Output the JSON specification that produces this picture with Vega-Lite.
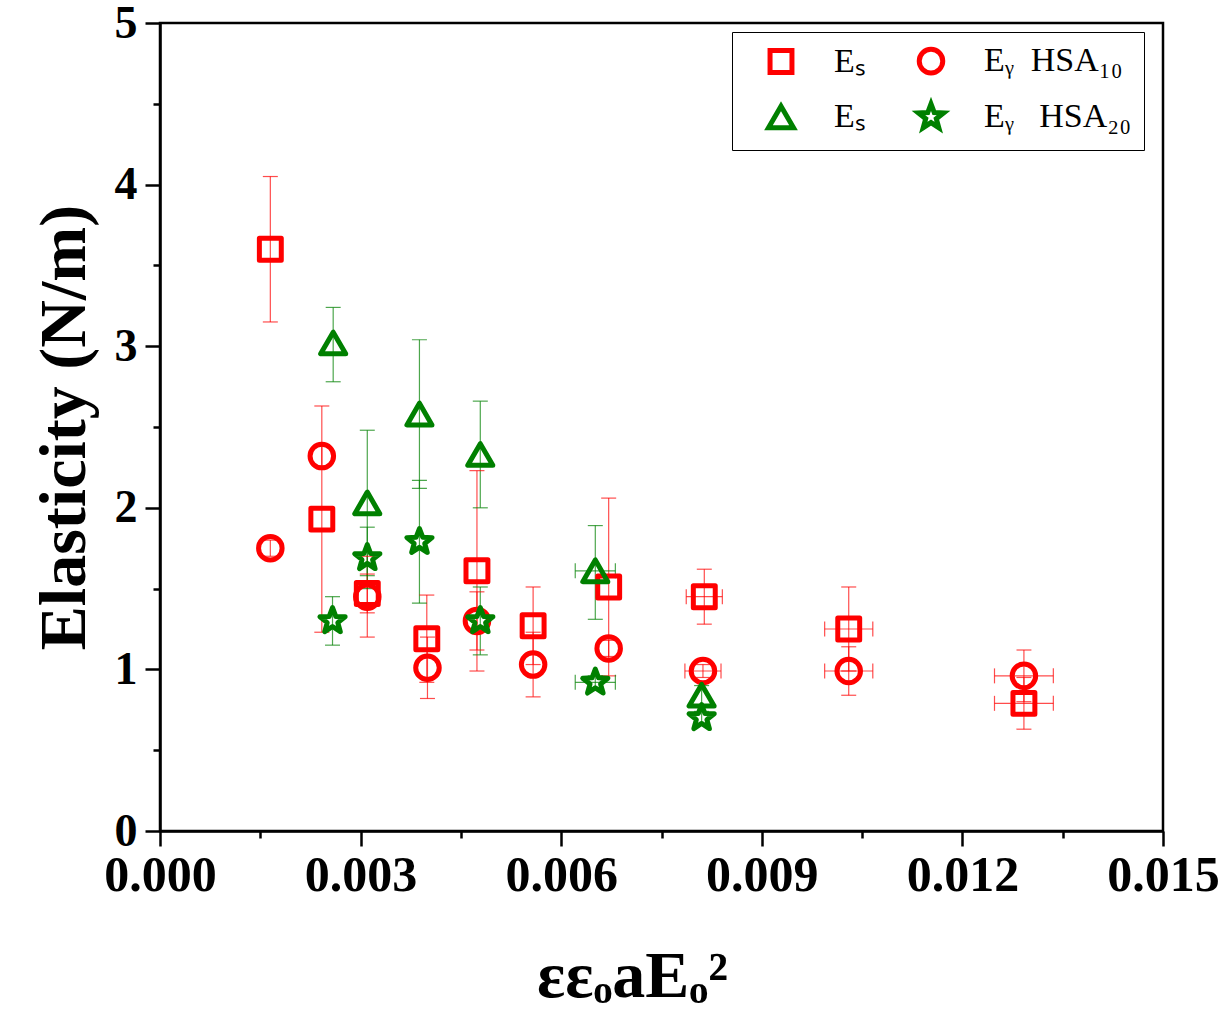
{
  "$schema": "https://vega.github.io/schema/vega-lite/v6.json",
  "width": 1003,
  "height": 808,
  "autosize": {"type": "none"},
  "padding": {"left": 160, "top": 23, "right": 68, "bottom": 187},
  "background": "white",
  "config": {
    "font": "Liberation Serif",
    "view": {"stroke": "black", "strokeWidth": 2.5},
    "axis": {
      "domainColor": "black", "domainWidth": 2.5,
      "tickColor": "black", "tickWidth": 2.5,
      "labelFont": "Liberation Serif", "labelFontWeight": "bold", "labelColor": "black",
      "titleFont": "Liberation Serif", "titleFontWeight": "bold", "titleColor": "black",
      "grid": false
    }
  },
  "resolve": {"scale": {"stroke": "independent", "fill": "independent"}},
  "data": {
    "values": [
      {"series": "s10", "x": 0.00165, "y": 3.60, "ylo": 3.15, "yhi": 4.05, "xlo": null, "xhi": null},
      {"series": "s10", "x": 0.00242, "y": 1.93, "ylo": 1.23, "yhi": 2.63, "xlo": null, "xhi": null},
      {"series": "s10", "x": 0.00310, "y": 1.47, "ylo": 1.35, "yhi": 1.59, "xlo": null, "xhi": null},
      {"series": "s10", "x": 0.00399, "y": 1.19, "ylo": 0.92, "yhi": 1.46, "xlo": null, "xhi": null},
      {"series": "s10", "x": 0.00474, "y": 1.61, "ylo": 0.99, "yhi": 2.23, "xlo": null, "xhi": null},
      {"series": "s10", "x": 0.00558, "y": 1.27, "ylo": 1.03, "yhi": 1.51, "xlo": null, "xhi": null},
      {"series": "s10", "x": 0.00671, "y": 1.51, "ylo": 0.96, "yhi": 2.06, "xlo": null, "xhi": null},
      {"series": "s10", "x": 0.00814, "y": 1.45, "ylo": 1.28, "yhi": 1.62, "xlo": 0.00787, "xhi": 0.00841},
      {"series": "s10", "x": 0.01030, "y": 1.25, "ylo": 0.99, "yhi": 1.51, "xlo": 0.00994, "xhi": 0.01066},
      {"series": "s10", "x": 0.01292, "y": 0.79, "ylo": 0.63, "yhi": 0.95, "xlo": 0.01248, "xhi": 0.01336},
      {"series": "y10", "x": 0.00165, "y": 1.75, "ylo": 1.70, "yhi": 1.80, "xlo": null, "xhi": null},
      {"series": "y10", "x": 0.00242, "y": 2.32, "ylo": 2.25, "yhi": 2.39, "xlo": null, "xhi": null},
      {"series": "y10", "x": 0.00310, "y": 1.45, "ylo": 1.20, "yhi": 1.70, "xlo": null, "xhi": null},
      {"series": "y10", "x": 0.00400, "y": 1.01, "ylo": 0.82, "yhi": 1.20, "xlo": null, "xhi": null},
      {"series": "y10", "x": 0.00474, "y": 1.30, "ylo": 1.12, "yhi": 1.48, "xlo": null, "xhi": null},
      {"series": "y10", "x": 0.00558, "y": 1.03, "ylo": 0.83, "yhi": 1.23, "xlo": null, "xhi": null},
      {"series": "y10", "x": 0.00671, "y": 1.13, "ylo": 1.08, "yhi": 1.18, "xlo": null, "xhi": null},
      {"series": "y10", "x": 0.00812, "y": 0.99, "ylo": 0.95, "yhi": 1.03, "xlo": 0.00785, "xhi": 0.00839},
      {"series": "y10", "x": 0.01030, "y": 0.99, "ylo": 0.84, "yhi": 1.14, "xlo": 0.00994, "xhi": 0.01066},
      {"series": "y10", "x": 0.01292, "y": 0.96, "ylo": 0.80, "yhi": 1.12, "xlo": 0.01248, "xhi": 0.01336},
      {"series": "s20", "x": 0.00259, "y": 3.02, "ylo": 2.78, "yhi": 3.24, "xlo": null, "xhi": null},
      {"series": "s20", "x": 0.00310, "y": 2.03, "ylo": 1.58, "yhi": 2.48, "xlo": null, "xhi": null},
      {"series": "s20", "x": 0.00388, "y": 2.58, "ylo": 2.12, "yhi": 3.04, "xlo": null, "xhi": null},
      {"series": "s20", "x": 0.00479, "y": 2.33, "ylo": 2.00, "yhi": 2.66, "xlo": null, "xhi": null},
      {"series": "s20", "x": 0.00651, "y": 1.61, "ylo": 1.31, "yhi": 1.89, "xlo": 0.00621, "xhi": 0.00681},
      {"series": "s20", "x": 0.00810, "y": 0.84, "ylo": 0.78, "yhi": 0.90, "xlo": null, "xhi": null},
      {"series": "y20", "x": 0.00258, "y": 1.30, "ylo": 1.15, "yhi": 1.45, "xlo": null, "xhi": null},
      {"series": "y20", "x": 0.00310, "y": 1.69, "ylo": 1.50, "yhi": 1.88, "xlo": null, "xhi": null},
      {"series": "y20", "x": 0.00388, "y": 1.79, "ylo": 1.41, "yhi": 2.17, "xlo": null, "xhi": null},
      {"series": "y20", "x": 0.00479, "y": 1.30, "ylo": 1.09, "yhi": 1.51, "xlo": null, "xhi": null},
      {"series": "y20", "x": 0.00651, "y": 0.92, "ylo": 0.88, "yhi": 0.96, "xlo": 0.00621, "xhi": 0.00681},
      {"series": "y20", "x": 0.00810, "y": 0.70, "ylo": 0.66, "yhi": 0.74, "xlo": null, "xhi": null}
    ]
  },
  "layer": [
    {
      "mark": {"type": "rule", "strokeWidth": 1.2, "opacity": 0.7},
      "encoding": {
        "x": {"field": "x", "type": "quantitative"},
        "y": {"field": "ylo", "type": "quantitative"},
        "y2": {"field": "yhi"},
        "stroke": {"field": "series", "type": "nominal", "legend": null,
          "scale": {"domain": ["s10", "y10", "s20", "y20"], "range": ["#ff0000", "#ff0000", "#008000", "#008000"]}}
      }
    },
    {
      "mark": {"type": "tick", "orient": "horizontal", "size": 15, "thickness": 1.2, "opacity": 0.7},
      "encoding": {
        "x": {"field": "x", "type": "quantitative"},
        "y": {"field": "ylo", "type": "quantitative"},
        "fill": {"field": "series", "type": "nominal", "legend": null,
          "scale": {"domain": ["s10", "y10", "s20", "y20"], "range": ["#ff0000", "#ff0000", "#008000", "#008000"]}}
      }
    },
    {
      "mark": {"type": "tick", "orient": "horizontal", "size": 15, "thickness": 1.2, "opacity": 0.7},
      "encoding": {
        "x": {"field": "x", "type": "quantitative"},
        "y": {"field": "yhi", "type": "quantitative"},
        "fill": {"field": "series", "type": "nominal", "legend": null,
          "scale": {"domain": ["s10", "y10", "s20", "y20"], "range": ["#ff0000", "#ff0000", "#008000", "#008000"]}}
      }
    },
    {
      "transform": [{"filter": "isValid(datum.xlo)"}],
      "mark": {"type": "rule", "strokeWidth": 1.2, "opacity": 0.7},
      "encoding": {
        "x": {"field": "xlo", "type": "quantitative"},
        "x2": {"field": "xhi"},
        "y": {"field": "y", "type": "quantitative"},
        "stroke": {"field": "series", "type": "nominal", "legend": null,
          "scale": {"domain": ["s10", "y10", "s20", "y20"], "range": ["#ff0000", "#ff0000", "#008000", "#008000"]}}
      }
    },
    {
      "transform": [{"filter": "isValid(datum.xlo)"}],
      "mark": {"type": "tick", "orient": "vertical", "size": 15, "thickness": 1.2, "opacity": 0.7},
      "encoding": {
        "x": {"field": "xlo", "type": "quantitative"},
        "y": {"field": "y", "type": "quantitative"},
        "fill": {"field": "series", "type": "nominal", "legend": null,
          "scale": {"domain": ["s10", "y10", "s20", "y20"], "range": ["#ff0000", "#ff0000", "#008000", "#008000"]}}
      }
    },
    {
      "transform": [{"filter": "isValid(datum.xlo)"}],
      "mark": {"type": "tick", "orient": "vertical", "size": 15, "thickness": 1.2, "opacity": 0.7},
      "encoding": {
        "x": {"field": "xhi", "type": "quantitative"},
        "y": {"field": "y", "type": "quantitative"},
        "fill": {"field": "series", "type": "nominal", "legend": null,
          "scale": {"domain": ["s10", "y10", "s20", "y20"], "range": ["#ff0000", "#ff0000", "#008000", "#008000"]}}
      }
    },
    {
      "mark": {"type": "point", "filled": false, "strokeWidth": 5, "opacity": 1, "strokeJoin": "round"},
      "encoding": {
        "x": {
          "field": "x", "type": "quantitative",
          "scale": {"domain": [0, 0.015], "nice": false, "zero": false},
          "axis": {
            "values": [0, 0.0015, 0.003, 0.0045, 0.006, 0.0075, 0.009, 0.0105, 0.012, 0.0135, 0.015],
            "format": ".3f",
            "labelExpr": "abs(datum.value/0.003 - round(datum.value/0.003)) < 0.01 ? datum.label : ''",
            "tickSize": {"condition": {"test": "abs(datum.value/0.003 - round(datum.value/0.003)) < 0.01", "value": 15}, "value": 7},
            "labelFontSize": 50,
            "labelPadding": 4,
            "labelFlush": false,
            "labelOverlap": false,
            "title": "εεₒaEₒ²",
            "titleFontSize": 66,
            "titlePadding": 44,
            "titleX": 472
          }
        },
        "y": {
          "field": "y", "type": "quantitative",
          "scale": {"domain": [0, 5], "nice": false, "zero": false},
          "axis": {
            "values": [0, 0.5, 1, 1.5, 2, 2.5, 3, 3.5, 4, 4.5, 5],
            "format": ".0f",
            "labelExpr": "abs(datum.value - round(datum.value)) < 0.01 ? datum.label : ''",
            "tickSize": {"condition": {"test": "abs(datum.value - round(datum.value)) < 0.01", "value": 15}, "value": 7},
            "labelFontSize": 46,
            "labelPadding": 8,
            "labelFlush": false,
            "labelOverlap": false,
            "title": "Elasticity (N/m)",
            "titleFontSize": 66,
            "titlePadding": 16
          }
        },
        "color": {
          "field": "series", "type": "nominal",
          "scale": {"domain": ["s10", "y10", "s20", "y20"], "range": ["#ff0000", "#ff0000", "#008000", "#008000"]},
          "legend": {
            "orient": "none", "legendX": 572, "legendY": 9,
            "columns": 2, "direction": "horizontal", "title": null,
            "labelExpr": "{'s10': 'Eₛ', 'y10': 'Eᵧ\u00a0\u00a0HSA₁₀', 's20': 'Eₛ', 'y20': 'Eᵧ\u00a0\u00a0\u00a0HSA₂₀'}[datum.label]",
            "labelFont": "Liberation Serif", "labelFontSize": 34, "labelColor": "black",
            "labelOffset": 36, "symbolOffset": 20, "padding": 12,
            "columnPadding": 28, "rowPadding": 10,
            "symbolStrokeWidth": 5,
            "strokeColor": "black", "fillColor": "white"
          }
        },
        "shape": {
          "field": "series", "type": "nominal",
          "scale": {"domain": ["s10", "y10", "s20", "y20"], "range": ["square", "circle", "triangle-up", "M0,-1L0.247,-0.34L0.951,-0.309L0.399,0.13L0.588,0.809L0,0.42L-0.588,0.809L-0.399,0.13L-0.951,-0.309L-0.247,-0.34Z"]}
        },
        "size": {
          "field": "series", "type": "nominal",
          "scale": {"domain": ["s10", "y10", "s20", "y20"], "range": [480, 700, 1300, 1250]}
        }
      }
    }
  ]
}
